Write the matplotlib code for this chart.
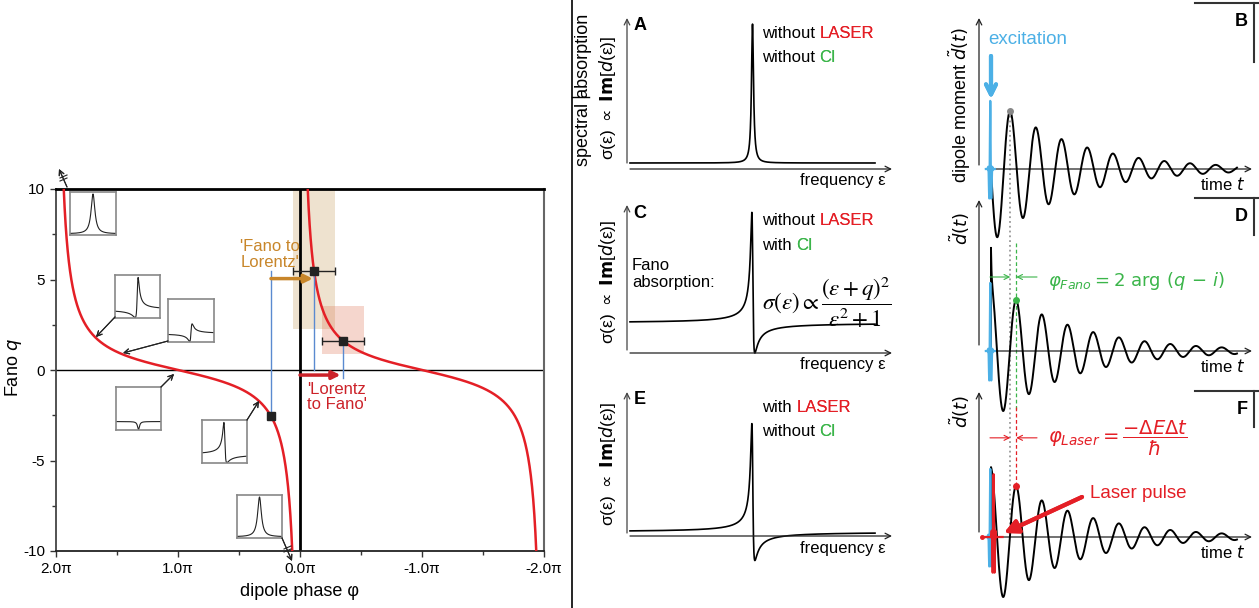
import numpy as np
import matplotlib
matplotlib.use('Agg')
import matplotlib.pyplot as plt
from matplotlib.lines import Line2D
from matplotlib.patches import Rectangle

plt.rcParams['font.family'] = ['Liberation Sans', 'DejaVu Sans']
plt.rcParams['mathtext.fontset'] = 'dejavusans'

# ---------------- data ----------------
PHI_TICKS = [2, 1, 0, -1, -2]                      # units of pi
PHI_TICK_LABELS = ['2.0π', '1.0π', '0.0π', '-1.0π', '-2.0π']
PHI_MINOR = [1.5, 0.5, -0.5, -1.5]
Q_TICKS = [10, 5, 0, -5, -10]
Q_TICK_LABELS = ['10', '5', '0', '-5', '-10']
Q_MINOR = [7.5, 2.5, -2.5, -7.5]

MEAS_PHI = [-0.115, -0.352, 0.238]                 # measured dipole phases (units of pi)
MEAS_Q = [5.47, 1.60, -2.54]
MEAS_PHI_ERR = [0.175, 0.175, 0.0]
RECT_Q = [(2.27, 10.0), (0.89, 3.55)]              # shaded q ranges
RECT_COLORS = ['#c8a060', '#e07a5a']

INSET_Q = [np.inf, 2.0, 1.1, 0.0, -2.0, -np.inf]   # lineshape insets

LORENTZ_OFFSET, LORENTZ_AMP = 0.2, 4.63            # panel A
Q_C = -1.92                                        # panel C
Q_E, E_OFFSET, E_SCALE = -1.95, 0.133, 0.95        # panel E

DECAY = 0.33            # per period
FANO_SHIFT = 0.233      # periods
D_AMP, D_SPIKE = 0.95, 0.45
T_END = 9.57

RED = '#e41f26'
RED2 = '#cc2229'
ORANGE = '#c8862a'
BLUE = '#4cb0e6'
LBLUE = '#5a8ad0'
GREEN = '#3bb54a'

W, H = 1259, 608
fig = plt.figure(figsize=(W / 100, H / 100), dpi=100)


def add_ax(x0, y0, x1, y1, **kw):
    return fig.add_axes([x0 / W, 1 - y1 / H, (x1 - x0) / W, (y1 - y0) / H], **kw)


def ftext(x, y, s, **kw):
    return fig.text(x / W, 1 - y / H, s, **kw)


def fline(xs, ys, **kw):
    fig.add_artist(Line2D([x / W for x in xs], [1 - y / H for y in ys],
                          transform=fig.transFigure, **kw))


def farrow(x0, y0, x1, y1, **props):
    fig.add_artist(plt.annotate('', xy=(x1, H - y1), xytext=(x0, H - y0),
                                xycoords='figure pixels', textcoords='figure pixels',
                                arrowprops=props))

# ---------------- left panel ----------------
ax = add_ax(56, 189, 544, 551)
ax.set_xlim(2, -2)
ax.set_ylim(-10, 10)
for lo, hi in [(1e-4, 2 - 1e-4), (-2 + 1e-4, -1e-4)]:
    p = np.linspace(lo, hi, 6000)
    ax.plot(p, -1 / np.tan(np.pi * p / 2), color=RED, lw=1.8, zorder=3)

for (ph, e), (qlo, qhi), c in zip(zip(MEAS_PHI, MEAS_PHI_ERR), RECT_Q, RECT_COLORS):
    ax.add_patch(Rectangle((ph + e, qlo), -2 * e, qhi - qlo, color=c, alpha=0.3,
                           lw=0, zorder=1))

ax.axvline(0, color='k', lw=2, zorder=2)
ax.axhline(0, color='k', lw=1, zorder=2)

# blue guide lines
ax.plot([MEAS_PHI[2]] * 2, [MEAS_Q[2], MEAS_Q[0]], color=LBLUE, lw=1, zorder=4)
ax.plot([MEAS_PHI[0]] * 2, [MEAS_Q[0], 0], color=LBLUE, lw=1, zorder=4)
ax.plot([MEAS_PHI[1]] * 2, [MEAS_Q[1], -0.45], color=LBLUE, lw=1, zorder=4)

ax.errorbar(MEAS_PHI[:2], MEAS_Q[:2], xerr=MEAS_PHI_ERR[:2], fmt='s', ms=6,
            color='#222', ecolor='#222', elinewidth=1, capsize=3, zorder=5)
ax.plot(MEAS_PHI[2], MEAS_Q[2], 's', ms=6, color='#222', zorder=5)

ax.annotate('', xy=(MEAS_PHI[0] + 0.01, MEAS_Q[0] - 0.42), xytext=(MEAS_PHI[2], MEAS_Q[0] - 0.42),
            arrowprops=dict(arrowstyle='-|>', color=ORANGE, lw=2.5, mutation_scale=12,
                            shrinkA=0, shrinkB=0), zorder=6)
ax.annotate('', xy=(MEAS_PHI[1] + 0.02, -0.28), xytext=(0, -0.28),
            arrowprops=dict(arrowstyle='-|>', color=RED2, lw=2.5, mutation_scale=12,
                            shrinkA=0, shrinkB=0), zorder=6)
ax.text(0.49, 6.37, "'Fano to\nLorentz'", color=ORANGE, ha='left', va='center',
        fontsize=12, linespacing=1.05)
ax.text(-0.057, -1.5, "'Lorentz\nto Fano'", color=RED2, ha='left', va='center',
        fontsize=12, linespacing=1.05)

ax.set_xticks(PHI_TICKS)
ax.set_xticklabels(PHI_TICK_LABELS)
ax.set_xticks(PHI_MINOR, minor=True)
ax.set_yticks(Q_TICKS)
ax.set_yticklabels(Q_TICK_LABELS)
ax.set_yticks(Q_MINOR, minor=True)
ax.tick_params(which='major', length=4, width=1, labelsize=11, pad=4, color='#333')
ax.tick_params(which='minor', length=3, width=1, color='#333')
ax.spines['top'].set_linewidth(2)
ax.spines['top'].set_color('k')
ax.spines['left'].set_color('#444')
ax.spines['left'].set_linewidth(1.3)
ax.spines['bottom'].set_color('#222')
ax.spines['bottom'].set_linewidth(1.3)
ax.spines['right'].set_color('#666')
ax.spines['right'].set_linewidth(1.5)

ftext(13, 368, r'Fano $q$', rotation=90, ha='center', va='center', fontsize=13)
ftext(300, 592, 'dipole phase φ', ha='center', va='center', fontsize=13)

# insets
INSET_BOXES = [(70, 192, 116, 235), (115, 275, 160, 318), (168, 299, 214, 342),
               (116, 387, 161, 430), (202, 420, 247, 463), (237, 495, 282, 538)]
for (x0, y0, x1, y1), qi in zip(INSET_BOXES, INSET_Q):
    ia = add_ax(x0, y0, x1, y1)
    if np.isinf(qi):
        e = np.linspace(-10, 10, 2001)
        ia.plot(e, 1 / (1 + e ** 2), color='#222', lw=0.8)
        ia.set_ylim(-0.03, 1.05)
    else:
        e = np.linspace(-19, 19, 4001)
        ia.plot(e, (e + qi) ** 2 / (e ** 2 + 1), color='#222', lw=0.8)
        ia.set_ylim(-0.05, 5.3)
    ia.set_xlim(e[0], e[-1])
    ia.set_xticks([])
    ia.set_yticks([])
    for s in ia.spines.values():
        s.set_color('#888')
        s.set_linewidth(1.2)

ap = dict(arrowstyle='->', lw=0.8, color='#222', mutation_scale=9, shrinkA=0, shrinkB=0)
farrow(67, 187, 59, 169, **ap)
farrow(115, 317, 96, 337, **ap)
farrow(168, 341, 123, 353, **ap)
farrow(161, 387, 174, 374, **ap)
farrow(247, 420, 259, 401, **ap)
farrow(282, 538, 292, 561, **ap)
for dy in (0, 3):
    fline([60, 67], [178 + dy, 175 + dy], color='#222', lw=0.8)
    fline([284, 291], [549 + dy, 546 + dy], color='#222', lw=0.8)

# ---------------- separator ----------------
fline([572, 572], [0, 608], color='k', lw=1.2)
fline([572, 589], [97, 97], color='k', lw=1.0)
ftext(583, 90, 'spectral absorption', rotation=90, ha='center', va='center', fontsize=13)

# ---------------- middle panels ----------------
EPS = np.linspace(-100, 100, 40001)
EPS_C, EPS_S = 752.5, 1.225          # pixel centre / pixel per unit
UNIT = 30.0                          # pixel per absorption unit


def fano(e, q):
    return (e + q) ** 2 / (e ** 2 + 1)


mid_curves = [
    LORENTZ_OFFSET + LORENTZ_AMP / (1 + EPS ** 2),
    fano(EPS, Q_C),
    E_OFFSET + E_SCALE * (fano(EPS, Q_E) - 1),
]
mid_geom = [(18, 169, 172, 163), (205, 353, 356, 350), (392, 536, 565, 533)]
mid_letters = ['A', 'C', 'E']
mid_lines = [('without ', 'LASER', 'without ', 'CI'),
             ('without ', 'LASER', 'with ', 'CI'),
             ('with ', 'LASER', 'without ', 'CI')]
label_centres = [98, 282, 464]

for curve, (top, axis_y, bot, ystart), letter, lines, lc in zip(
        mid_curves, mid_geom, mid_letters, mid_lines, label_centres):
    m = add_ax(627, top, 892, bot)
    m.set_xlim((627 - EPS_C) / EPS_S, (892 - EPS_C) / EPS_S)
    m.set_ylim((axis_y - bot) / UNIT, (axis_y - top) / UNIT)
    m.axis('off')
    m.plot(EPS, curve, color='k', lw=1.2, clip_on=False)
    m.annotate('', xy=(1, 0), xytext=((630 - EPS_C) / EPS_S, 0),
               xycoords=('axes fraction', 'data'), textcoords='data',
               arrowprops=dict(arrowstyle='->', lw=0.9, color='#222',
                               mutation_scale=10, shrinkA=0, shrinkB=0))
    m.annotate('', xy=(0, 1), xytext=(0, (axis_y - ystart) / UNIT),
               xycoords='axes fraction', textcoords=('axes fraction', 'data'),
               arrowprops=dict(arrowstyle='->', lw=0.9, color='#444',
                               mutation_scale=10, shrinkA=0, shrinkB=0))
    ftext(640, top + 8, letter, ha='center', va='center', fontsize=13, fontweight='bold')
    ftext(886, axis_y + 12, 'frequency ε', ha='right', va='center', fontsize=12)
    ftext(608, lc, r'σ(ε) $\propto$ $\mathbf{Im}$[$d$(ε)]', rotation=90, ha='center',
          va='center', fontsize=12.5)
    for k, yy in enumerate([top + 15, top + 40]):
        w1, w2 = lines[2 * k], lines[2 * k + 1]
        t1 = ftext(762, yy, w1, ha='left', va='center', fontsize=12)
        fig.add_artist(plt.annotate(w2, xy=(1, 0.5), xycoords=t1, xytext=(0, 0),
                                    textcoords='offset points', va='center', ha='left',
                                    fontsize=12, color=RED if w2 == 'LASER' else GREEN))

ftext(632, 274, 'Fano\nabsorption:', ha='left', va='center', fontsize=12, linespacing=1.15)
ftext(762, 302, r'$\sigma(\varepsilon) \propto \dfrac{(\varepsilon + q)^2}{\varepsilon^2 + 1}$',
      ha='left', va='center', fontsize=16.5, math_fontfamily='stix')

# ---------------- right panels ----------------
T0, TS = 991.0, 25.7       # pixel of t=0, pixel per period
AMP = 74.0                 # pixel per unit dipole
T = np.linspace(0, T_END, 4000)
osc_b = -np.exp(-DECAY * T) * np.sin(2 * np.pi * T)
osc_f = -D_AMP * np.exp(-DECAY * T) * np.sin(2 * np.pi * (T - FANO_SHIFT))
osc_d = osc_f + D_SPIKE * np.exp(-T / 0.02)
TB = np.linspace(-0.2, 0.15, 800)
blue_pulse = 0.92 * np.exp(-((TB + 0.03) / 0.045) ** 2) * np.cos(2 * np.pi * (TB + 0.03) / 0.09)
TR = np.linspace(-0.35, 0.45, 800)
red_pulse = 0.85 * np.exp(-((TR - 0.1) / 0.05) ** 2) * np.cos(2 * np.pi * (TR - 0.1) / 0.08)

right_geom = [(18, 169, 190, 165), (200, 351, 365, 345), (392, 537, 560, 532)]
right_curves = [(T, osc_b), (np.r_[-1e-4, T], np.r_[0, osc_d]), (np.r_[-1e-4, T], np.r_[0, osc_f])]
right_axes = []
for (top, axis_y, bot, ystart), (tt, yy) in zip(right_geom, right_curves):
    r = add_ax(979, top, 1252, bot)
    r.set_xlim((979 - T0) / TS, (1252 - T0) / TS)
    r.set_ylim((axis_y - bot) / AMP, (axis_y - top) / AMP)
    r.axis('off')
    r.annotate('', xy=(1, 0), xytext=((987 - T0) / TS, 0),
               xycoords=('axes fraction', 'data'), textcoords='data',
               arrowprops=dict(arrowstyle='->', lw=0.9, color='#222',
                               mutation_scale=10, shrinkA=0, shrinkB=0))
    r.annotate('', xy=(0, 1), xytext=(0, (axis_y - ystart) / AMP),
               xycoords='axes fraction', textcoords=('axes fraction', 'data'),
               arrowprops=dict(arrowstyle='->', lw=0.9, color='#222',
                               mutation_scale=10, shrinkA=0, shrinkB=0))
    r.plot(tt, yy, color='k', lw=1.4, clip_on=False, zorder=3)
    r.plot(TB, blue_pulse, color=BLUE, lw=1.6, clip_on=False, zorder=4)
    r.plot(-0.04, 0, 'D', color=BLUE, ms=3.5, clip_on=False, zorder=4)
    ftext(1245, axis_y + 16, r'time $t$', ha='right', va='center', fontsize=12)
    right_axes.append(r)

rb, rd, rf = right_axes
t_pk_b = 0.75
t_pk_d = 0.75 + FANO_SHIFT
pk_b = -np.exp(-DECAY * t_pk_b) * np.sin(2 * np.pi * t_pk_b)
pk_d = -D_AMP * np.exp(-DECAY * t_pk_d) * np.sin(2 * np.pi * (t_pk_d - FANO_SHIFT))

rb.plot([t_pk_b, t_pk_b], [pk_b, (169 - 537) / AMP], color='#999', ls=':', lw=1.3,
        clip_on=False, zorder=2)
rb.plot(t_pk_b, pk_b, 'o', color='#888', ms=4, clip_on=False, zorder=5)

rd.plot([t_pk_d, t_pk_d], [(351 - 243) / AMP, (351 - 410) / AMP], color=GREEN, ls=(0, (3, 2)),
        lw=0.9, clip_on=False, zorder=2)
rd.plot(t_pk_d, pk_d, 'o', color=GREEN, ms=4, clip_on=False, zorder=5)
rf.plot([t_pk_d, t_pk_d], [(537 - 407) / AMP, pk_d], color=RED, ls=(0, (3, 2)),
        lw=0.9, clip_on=False, zorder=2)
rf.plot(t_pk_d, pk_d, 'o', color=RED, ms=4, clip_on=False, zorder=5)
rf.plot(TR, red_pulse, color=RED, lw=1.6, clip_on=False, zorder=5)
rf.plot(TR[0], 0, 'o', color=RED, ms=2.5, clip_on=False, zorder=5)

for r, yv, col in [(rd, 1.0, GREEN), (rf, 1.34, RED)]:
    r.annotate('', xy=(t_pk_b, yv), xytext=(-0.04, yv),
               arrowprops=dict(arrowstyle='->', lw=0.8, color=col, mutation_scale=9,
                               shrinkA=0, shrinkB=0))
    r.annotate('', xy=(t_pk_d, yv), xytext=(1.79, yv),
               arrowprops=dict(arrowstyle='->', lw=0.8, color=col, mutation_scale=9,
                               shrinkA=0, shrinkB=0))

ftext(1048, 281, r'$\varphi_{Fano} = 2\ \mathrm{arg}\ (q\, -\, i)$', color=GREEN,
      ha='left', va='center', fontsize=13)
ftext(1048, 438, r'$\varphi_{Laser} = \dfrac{-\Delta E \Delta t}{\hbar}$', color=RED,
      ha='left', va='center', fontsize=14)

ftext(988, 40, 'excitation', color=BLUE, ha='left', va='center', fontsize=13.5)
farrow(991, 56, 991, 99, arrowstyle='->', lw=3, color=BLUE, mutation_scale=18,
       shrinkA=0, shrinkB=0)
ftext(1090, 493, 'Laser pulse', color=RED, ha='left', va='center', fontsize=13.5)
farrow(1082, 497, 1004, 533, arrowstyle='-|>', lw=3, color=RED, mutation_scale=20,
       shrinkA=0, shrinkB=0)

ftext(960, 105, r'dipole moment $\tilde{d}(t)$', rotation=90, ha='center', va='center',
      fontsize=13)
ftext(960, 229, r'$\tilde{d}(t)$', rotation=90, ha='center', va='center', fontsize=13)
ftext(960, 412, r'$\tilde{d}(t)$', rotation=90, ha='center', va='center', fontsize=13)

for top, bottom, letter in [(3, 62, 'B'), (198, 235, 'D'), (391, 427, 'F')]:
    fline([1195, 1259], [top, top], color='#333', lw=1.5)
    fline([1254, 1254], [top, bottom], color='#333', lw=1.5)
    ftext(1248, top + 19, letter, ha='right', va='center', fontsize=13, fontweight='bold')

fig.savefig('out.png', dpi=100)
